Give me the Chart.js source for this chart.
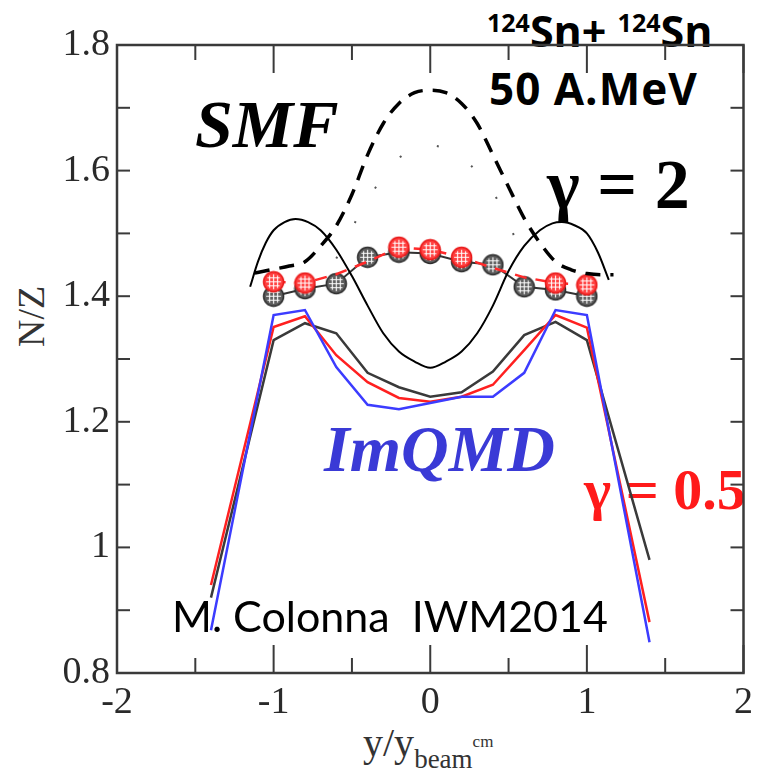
<!DOCTYPE html>
<html lang="en">
<head>
<meta charset="UTF-8">
<title>N/Z vs y/y_beam</title>
<script src="https://cdn.jsdelivr.net/npm/chart.js@4.4.0/dist/chart.umd.min.js"></script>
<style>
  html, body { margin: 0; padding: 0; background: #fff; }
  #wrap { position: relative; width: 760px; height: 773px; overflow: hidden; }
  #chart { position: absolute; left: 0; top: 0; z-index: 2; }
  .lbl { position: absolute; white-space: pre; line-height: 1; }
  .serif { font-family: "Liberation Serif", "DejaVu Serif", serif; }
  .sans { font-family: "Open Sans", "Liberation Sans", sans-serif; }
  .lato { font-family: Lato, "Liberation Sans", sans-serif; }
</style>
</head>
<body>
<div id="wrap">
  <!-- textes sous le canvas (les courbes passent par-dessus) -->
  <div class="lbl sans" style="left:487px;top:9px;font-size:43px;font-weight:bold;"><span style="font-size:25px;position:relative;top:-15px;">124</span>Sn+ <span style="font-size:25px;position:relative;top:-15px;">124</span>Sn</div>
  <div class="lbl sans" style="left:489px;top:66px;font-size:44px;font-weight:bold;letter-spacing:1px;">50 A.MeV</div>
  <div class="lbl serif" style="left:195px;top:90px;font-size:68px;font-weight:bold;font-style:italic;">SMF</div>
  <div class="lbl serif" style="left:547px;top:150px;font-size:70px;font-weight:bold;">γ = 2</div>
  <div class="lbl serif" style="left:324px;top:416px;font-size:66px;font-weight:bold;font-style:italic;color:#3a3ad6;">ImQMD</div>
  <div class="lbl serif" style="left:584px;top:461px;font-size:58px;font-weight:bold;color:#ff1a1a;">γ = 0.5</div>
  <div class="lbl serif" style="left:12px;top:347px;font-size:38px;color:#333;transform:rotate(-90deg);transform-origin:left top;">N/Z</div>
  <div class="lbl serif" style="left:363px;top:723px;font-size:40px;color:#333;">y/y<span style="font-size:27px;position:relative;top:12px;">beam</span><span style="font-size:17px;position:relative;top:-9px;">cm</span></div>

  <canvas id="chart" width="760" height="773"></canvas>

  <div class="lbl lato" style="left:172px;top:594px;font-size:43px;color:#000;z-index:3;">M. Colonna  IWM2014</div>
</div>

<script>
// ---- données ----
const xTickLabels = [-2, -1, 0, 1, 2];
const xMinorTicks = [-1.5, -0.5, 0.5, 1.5];
const yTickLabels = [0.8, 1, 1.2, 1.4, 1.6, 1.8];
const yMinorTicks = [0.9, 1.1, 1.3, 1.5, 1.7];

// ImQMD
const imqX     = [-1.4, -1.0, -0.8, -0.6, -0.4, -0.2, 0, 0.2, 0.4, 0.6, 0.8, 1.0, 1.4];
const imqBlack = [0.92, 1.33, 1.357, 1.341, 1.278, 1.255, 1.24, 1.247, 1.28, 1.338, 1.359, 1.33, 0.98];
const imqRed   = [0.94, 1.351, 1.368, 1.306, 1.263, 1.238, 1.232, 1.24, 1.259, 1.314, 1.37, 1.35, 0.881];
const imqBlue  = [0.868, 1.37, 1.378, 1.287, 1.227, 1.22, 1.23, 1.24, 1.24, 1.278, 1.378, 1.37, 0.849];

// SMF trait plein
const smfX     = [-1.15, -1.1, -1.05, -1.0, -0.93, -0.86, -0.78, -0.7, -0.6, -0.5, -0.4, -0.3, -0.2, -0.1, 0,
                  0.1, 0.2, 0.3, 0.4, 0.5, 0.6, 0.7, 0.78, 0.84, 0.92, 1.0, 1.07, 1.14];
const smfSolid = [1.415, 1.455, 1.485, 1.505, 1.518, 1.523, 1.518, 1.505, 1.474, 1.432, 1.385, 1.341, 1.312, 1.296, 1.286,
                  1.296, 1.312, 1.341, 1.385, 1.44, 1.48, 1.505, 1.516, 1.518, 1.513, 1.5, 1.47, 1.426];

// SMF tirets
const dashX = [-1.12, -1.0, -0.9, -0.8, -0.7, -0.6, -0.5, -0.4, -0.3, -0.2, -0.1, 0, 0.1, 0.2, 0.3, 0.4, 0.5, 0.6, 0.7, 0.8, 0.9, 1.0, 1.1, 1.17];
const dashY = [1.437, 1.443, 1.448, 1.455, 1.48, 1.512, 1.562, 1.625, 1.675, 1.707, 1.724, 1.728, 1.724, 1.707, 1.675, 1.625, 1.574, 1.524, 1.485, 1.455, 1.442, 1.436, 1.434, 1.434];

// SMF pointillés
const dotX = [-0.6, -0.4, -0.2, 0, 0.2, 0.4, 0.6];
const dotY = [1.46, 1.553, 1.62, 1.64, 1.62, 1.566, 1.46];

// cercles
const circX    = [-1, -0.8, -0.6, -0.4, -0.2, 0, 0.2, 0.4, 0.6, 0.8, 1];
const circGray = [1.40, 1.412, 1.42, 1.462, 1.47, 1.468, 1.455, 1.45, 1.415, 1.41, 1.40];
const circRed  = [1.423, 1.421, 1.435, 1.455, 1.478, 1.474, 1.462, 1.445, 1.43, 1.421, 1.418];
const redMarkerAt = [-1, -0.8, -0.2, 0, 0.2, 0.8, 1];

function pts(xs, ys) { return xs.map((x, i) => ({ x: x, y: ys[i] })); }

// marqueur rond hachuré
function hatchMarker(fill, edge) {
    const c = document.createElement('canvas');
    c.width = c.height = 23;
    const g = c.getContext('2d');
    g.beginPath();
    g.arc(11.5, 11.5, 10, 0, Math.PI * 2);
    g.fillStyle = fill;
    g.fill();
    g.lineWidth = 1.5;
    g.strokeStyle = edge;
    g.stroke();
    g.save();
    g.beginPath();
    g.arc(11.5, 11.5, 7.5, 0, Math.PI * 2);
    g.clip();
    g.strokeStyle = 'rgba(255,255,255,0.95)';
    g.lineWidth = 1.2;
    [7.5, 11.5, 15.5].forEach(p => {
        g.beginPath(); g.moveTo(p, 3); g.lineTo(p, 20); g.stroke();
        g.beginPath(); g.moveTo(3, p); g.lineTo(20, p); g.stroke();
    });
    g.restore();
    return c;
}
const grayMarker = hatchMarker('#5e5e5e', '#2e2e2e');
const redMarker = hatchMarker('#ff4040', '#e81818');

// cadre + graduations vers l'intérieur
const framePlugin = {
    id: 'frame',
    beforeDatasetsDraw(chart) {
        const { ctx, chartArea: a, scales: { x, y } } = chart;
        const seg = (x1, y1, x2, y2) => { ctx.beginPath(); ctx.moveTo(x1, y1); ctx.lineTo(x2, y2); ctx.stroke(); };
        ctx.save();
        ctx.strokeStyle = '#3a3a3a';
        ctx.lineWidth = 2;
        xTickLabels.forEach(v => { const p = x.getPixelForValue(v); seg(p, a.bottom, p, a.bottom - 28); seg(p, a.top, p, a.top + 28); });
        xMinorTicks.forEach(v => { const p = x.getPixelForValue(v); seg(p, a.bottom, p, a.bottom - 15); seg(p, a.top, p, a.top + 15); });
        yTickLabels.concat(yMinorTicks).forEach(v => { const p = y.getPixelForValue(v); seg(a.left, p, a.left + 13, p); seg(a.right, p, a.right - 13, p); });
        ctx.lineWidth = 2.5;
        ctx.strokeRect(a.left, a.top, a.right - a.left, a.bottom - a.top);
        ctx.restore();
    }
};

const tickFont = { family: '"Liberation Serif", serif', size: 38 };
const fmt = v => String(+Number(v).toFixed(1));

new Chart(document.getElementById('chart'), {
    type: 'scatter',
    data: {
        datasets: [
            { label: 'ImQMD black', data: pts(imqX, imqBlack), showLine: true, borderColor: '#3a3a3a', borderWidth: 2.5, pointRadius: 0, order: 9 },
            { label: 'ImQMD red', data: pts(imqX, imqRed), showLine: true, borderColor: '#ff2020', borderWidth: 2.5, pointRadius: 0, order: 8 },
            { label: 'ImQMD blue', data: pts(imqX, imqBlue), showLine: true, borderColor: '#3c3cff', borderWidth: 2.5, pointRadius: 0, order: 7 },
            { label: 'SMF gray', data: pts(circX, circGray), showLine: true, borderColor: '#333', borderWidth: 2, pointStyle: grayMarker, pointRadius: 11, order: 6 },
            { label: 'SMF red', data: pts(circX, circRed), showLine: true, borderColor: '#ff2a2a', borderWidth: 2.5, borderDash: [12, 9],
              pointStyle: redMarker, pointRadius: ctx => redMarkerAt.includes(circX[ctx.dataIndex]) ? 11 : 0, order: 5 },
            { label: 'SMF dotted', data: pts(dotX, dotY), showLine: true, borderColor: '#555', borderWidth: 2, borderDash: [2, 38], cubicInterpolationMode: 'monotone', pointRadius: 0, order: 4 },
            { label: 'SMF dashed', data: pts(dashX, dashY), showLine: true, borderColor: '#000', borderWidth: 3.5, borderDash: [15, 10], cubicInterpolationMode: 'monotone', pointRadius: 0, order: 3 },
            { label: 'SMF solid', data: pts(smfX, smfSolid), showLine: true, borderColor: '#000', borderWidth: 2, cubicInterpolationMode: 'monotone', pointRadius: 0, order: 2 }
        ]
    },
    options: {
        responsive: false,
        animation: false,
        layout: { padding: { top: 45, right: 9, left: 0, bottom: 0 } },
        plugins: { legend: { display: false }, tooltip: { enabled: false } },
        scales: {
            x: {
                type: 'linear', min: -2, max: 2,
                afterBuildTicks: s => { s.ticks = xTickLabels.map(v => ({ value: v })); },
                afterFit: s => { s.height = 100; },
                ticks: { font: tickFont, color: '#2a2a2a', padding: 7, maxRotation: 0, callback: fmt },
                grid: { display: false, drawTicks: false },
                border: { display: false }
            },
            y: {
                type: 'linear', min: 0.8, max: 1.8,
                afterBuildTicks: s => { s.ticks = yTickLabels.map(v => ({ value: v })); },
                afterFit: s => { s.width = 117; },
                ticks: { font: tickFont, color: '#2a2a2a', padding: 7, callback: fmt },
                grid: { display: false, drawTicks: false },
                border: { display: false }
            }
        }
    },
    plugins: [framePlugin]
});
</script>
</body>
</html>
